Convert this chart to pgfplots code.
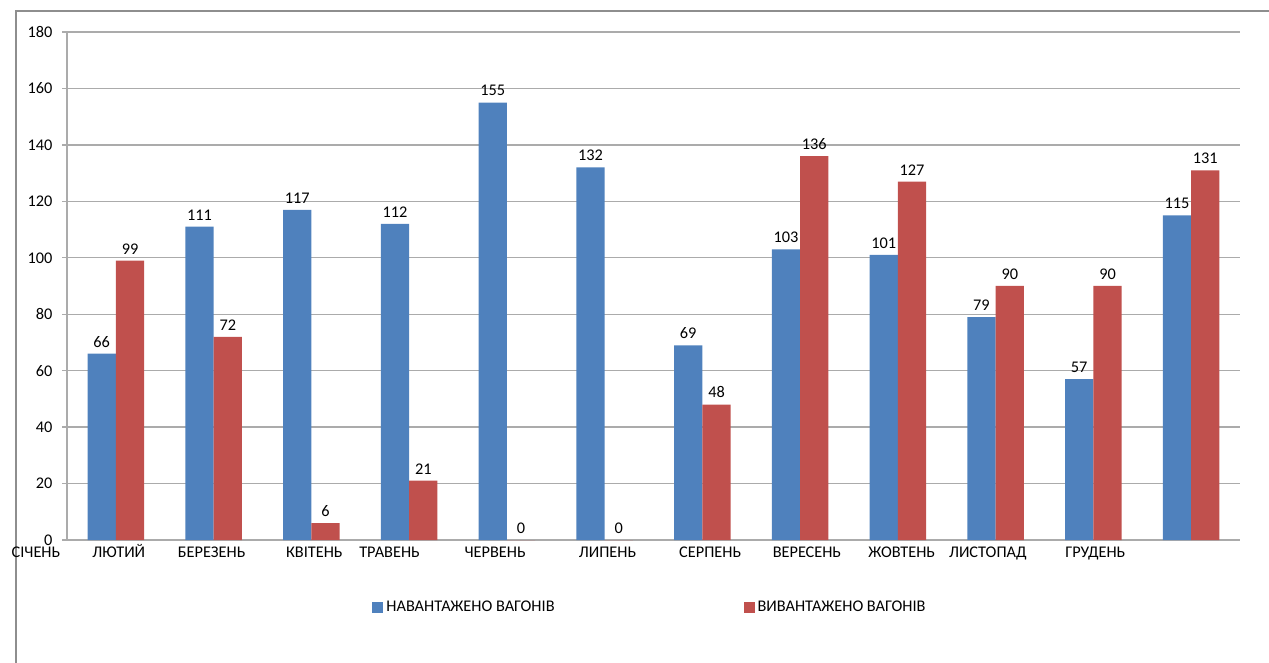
\documentclass[border=0pt]{standalone}
\usepackage{fontspec}
\setmainfont{Carlito}
\usepackage{pgfplots}
\pgfplotsset{compat=1.18}
\definecolor{barblue}{HTML}{4F81BD}
\definecolor{barred}{HTML}{C0504D}
\definecolor{gridgray}{HTML}{ABABAB}
\definecolor{framegray}{HTML}{8E8E8E}
\newcommand\chartfont{\fontsize{16.3}{19}\selectfont}

% monthly wagon counts: loaded (blue) and unloaded (red)
\pgfplotstableread{
x loaded unloaded
0 66 99
1 111 72
2 117 6
3 112 21
4 155 0
5 132 0
6 69 48
7 103 136
8 101 127
9 79 90
10 57 90
11 115 131
}\wagons

\tikzset{monthlabel/.style={text height=11pt, text depth=3pt, inner sep=2pt}}

\begin{document}
\begin{tikzpicture}[x=1pt,y=1pt,font=\chartfont]
\useasboundingbox (0,0) rectangle (1269,662);
\draw[framegray, line width=1.3pt] (16,-5) -- (16,651) -- (1275,651);
\begin{axis}[
  at={(67pt,122pt)}, anchor=south west,
  scale only axis, width=1173pt, height=508pt,
  xmin=-0.5, xmax=11.5, ymin=0, ymax=180,
  clip mode=individual,
  axis lines*=left,
  axis line style={gridgray, line width=1.3pt},
  ymajorgrids, grid style={gridgray, line width=1.3pt},
  ytick={0,20,...,180},
  tick align=outside,
  major tick length=5pt,
  tick style={gridgray, line width=1.3pt},
  /pgf/number format/assume math mode=true,
  yticklabel style={xshift=-6pt},
  xtick={0.03,0.98,2.03,2.8,3.88,5.03,6.08,7.07,8.04,8.92,10.02},
  xticklabels={ЛЮТИЙ,БЕРЕЗЕНЬ,КВІТЕНЬ,ТРАВЕНЬ,ЧЕРВЕНЬ,ЛИПЕНЬ,СЕРПЕНЬ,ВЕРЕСЕНЬ,ЖОВТЕНЬ,ЛИСТОПАД,ГРУДЕНЬ},
  x tick style={draw=none},
  xticklabel style={monthlabel, anchor=north, yshift=1pt},
  extra x ticks={-0.5,0.5,...,11.5},
  extra x tick labels={},
  extra x tick style={grid=none, tick style={gridgray, line width=1.3pt}},
  ybar=0pt, bar width=0.29,
  nodes near coords,
  every node near coord/.append style={font=\chartfont, black, yshift=3pt},
  legend columns=2,
  legend cell align=left,
  legend image code/.code={\fill[#1] (0pt,-5.5pt) rectangle (11pt,5.5pt);},
  legend style={at={(0.4974,-0.132)}, anchor=center, draw=none, fill=none,
    nodes={inner xsep=3pt},
    /tikz/every even column/.append style={column sep=186pt}},
]
\addplot[fill=barblue, draw=none, bar shift=-0.145] table[x=x, y=loaded] {\wagons};
\addplot[fill=barred, draw=none, bar shift=0.145] table[x=x, y=unloaded] {\wagons};
\legend{НАВАНТАЖЕНО ВАГОНІВ, ВИВАНТАЖЕНО ВАГОНІВ}
% first month name sits left of the axis origin
\node[monthlabel, anchor=north, yshift=-4pt] at ([xshift=-31pt]axis cs:-0.5,0) {СІЧЕНЬ};
\end{axis}
\end{tikzpicture}
\end{document}
